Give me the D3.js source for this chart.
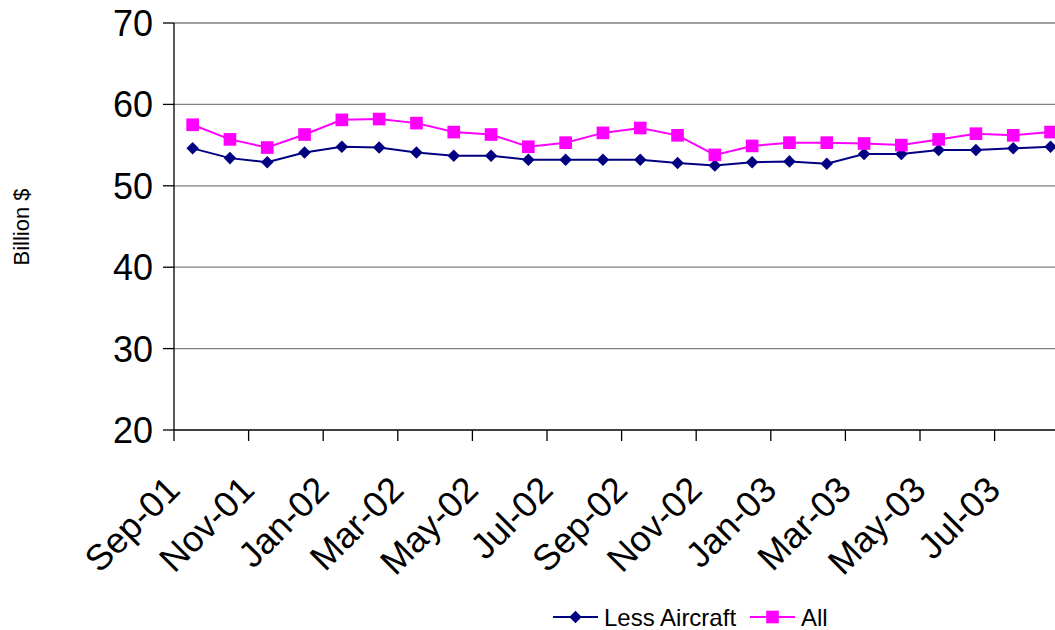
<!DOCTYPE html>
<html lang="en">
  <head>
    <meta charset="UTF-8" />
    <title>Billion $</title>
    <script src="https://d3js.org/d3.v7.min.js"></script>
    <style>
      body { margin: 0; background: #fff; }
      svg { display: block; font-family: "Liberation Sans", Arial, sans-serif; }
    </style>
  </head>
  <body>
    <svg></svg>
    <script>
      const months = [
        "Sep-01", "Oct-01", "Nov-01", "Dec-01", "Jan-02", "Feb-02", "Mar-02", "Apr-02",
        "May-02", "Jun-02", "Jul-02", "Aug-02", "Sep-02", "Oct-02", "Nov-02", "Dec-02",
        "Jan-03", "Feb-03", "Mar-03", "Apr-03", "May-03", "Jun-03", "Jul-03", "Aug-03",
      ];
      const lessAircraft = [
        54.6, 53.4, 52.9, 54.1, 54.8, 54.7, 54.1, 53.7, 53.7, 53.2, 53.2, 53.2,
        53.2, 52.8, 52.5, 52.9, 53.0, 52.7, 53.9, 53.9, 54.4, 54.4, 54.6, 54.8,
      ];
      const all = [
        57.5, 55.7, 54.7, 56.3, 58.1, 58.2, 57.7, 56.6, 56.3, 54.8, 55.3, 56.5,
        57.1, 56.2, 53.8, 54.9, 55.3, 55.3, 55.2, 55.0, 55.7, 56.4, 56.2, 56.6,
      ];
      const yTicks = [20, 30, 40, 50, 60, 70];

      const width = 1055, height = 630;
      const plotLeft = 174, plotTop = 23, plotBottom = 430;
      const monthW = 37.3;

      const svg = d3.select("svg").attr("width", width).attr("height", height);

      const x = d3.scaleBand().domain(months).range([plotLeft, plotLeft + months.length * monthW]);
      const y = d3.scaleLinear().domain([20, 70]).range([plotBottom, plotTop]);

      // gridlines
      svg.append("g")
        .selectAll("line")
        .data(yTicks.slice(1))
        .join("line")
        .attr("x1", plotLeft).attr("x2", width)
        .attr("y1", d => y(d)).attr("y2", d => y(d))
        .attr("stroke", "#808080").attr("stroke-width", 1.3);

      // y axis
      const yAxis = svg.append("g");
      yAxis.append("line")
        .attr("x1", plotLeft).attr("x2", plotLeft).attr("y1", plotTop).attr("y2", plotBottom)
        .attr("stroke", "#000").attr("stroke-width", 1.3);
      yAxis.selectAll(".tk").data(yTicks).join("line")
        .attr("x1", plotLeft - 11).attr("x2", plotLeft)
        .attr("y1", d => y(d)).attr("y2", d => y(d))
        .attr("stroke", "#000").attr("stroke-width", 1.3);
      yAxis.selectAll("text").data(yTicks).join("text")
        .attr("x", plotLeft - 21).attr("y", d => y(d))
        .attr("dy", "0.36em")
        .attr("text-anchor", "end")
        .attr("font-size", 36)
        .text(d => d);

      svg.append("text")
        .attr("transform", "translate(29,227) rotate(-90)")
        .attr("text-anchor", "middle")
        .attr("font-size", 22)
        .text("Billion $");

      // x axis
      const xAxis = svg.append("g");
      xAxis.append("line")
        .attr("x1", plotLeft).attr("x2", width).attr("y1", plotBottom).attr("y2", plotBottom)
        .attr("stroke", "#000").attr("stroke-width", 1.3);
      const tickMonths = months.filter((m, i) => i % 2 === 0);
      xAxis.selectAll(".tk").data(tickMonths).join("line")
        .attr("x1", d => x(d)).attr("x2", d => x(d))
        .attr("y1", plotBottom).attr("y2", plotBottom + 11)
        .attr("stroke", "#000").attr("stroke-width", 1.3);
      xAxis.selectAll("text").data(tickMonths).join("text")
        .attr("transform", d => `translate(${x(d) - 10},${plotBottom + 44}) rotate(-45)`)
        .attr("text-anchor", "end")
        .attr("dy", "0.7em")
        .attr("font-size", 36)
        .text(d => d);

      const cx = d => x(d) + x.bandwidth() / 2;
      const line = d3.line().x(d => cx(d[0])).y(d => y(d[1]));

      const series = [
        { name: "Less Aircraft", values: lessAircraft, color: "#000080", shape: d3.symbolDiamond2, size: 100 },
        { name: "All", values: all, color: "#ff00ff", shape: d3.symbolSquare, size: 160 },
      ];

      series.forEach(s => {
        const pts = months.map((m, i) => [m, s.values[i]]);
        svg.append("path")
          .attr("d", line(pts))
          .attr("fill", "none")
          .attr("stroke", s.color)
          .attr("stroke-width", 2);
        svg.append("g").selectAll("path").data(pts).join("path")
          .attr("transform", d => `translate(${cx(d[0])},${y(d[1])})`)
          .attr("d", d3.symbol(s.shape, s.size))
          .attr("fill", s.color);
      });

      // legend
      const legendItems = [
        { s: series[0], x: 553 },
        { s: series[1], x: 750 },
      ];
      const lg = svg.append("g");
      legendItems.forEach(it => {
        const g = lg.append("g").attr("transform", `translate(${it.x},617)`);
        g.append("line").attr("x1", 0).attr("x2", 45)
          .attr("stroke", it.s.color).attr("stroke-width", 2);
        g.append("path").attr("transform", "translate(22.5,0)")
          .attr("d", d3.symbol(it.s.shape, it.s.size))
          .attr("fill", it.s.color);
        g.append("text").attr("x", 51).attr("dy", "0.36em")
          .attr("font-size", 24)
          .text(it.s.name);
      });
    </script>
  </body>
</html>
